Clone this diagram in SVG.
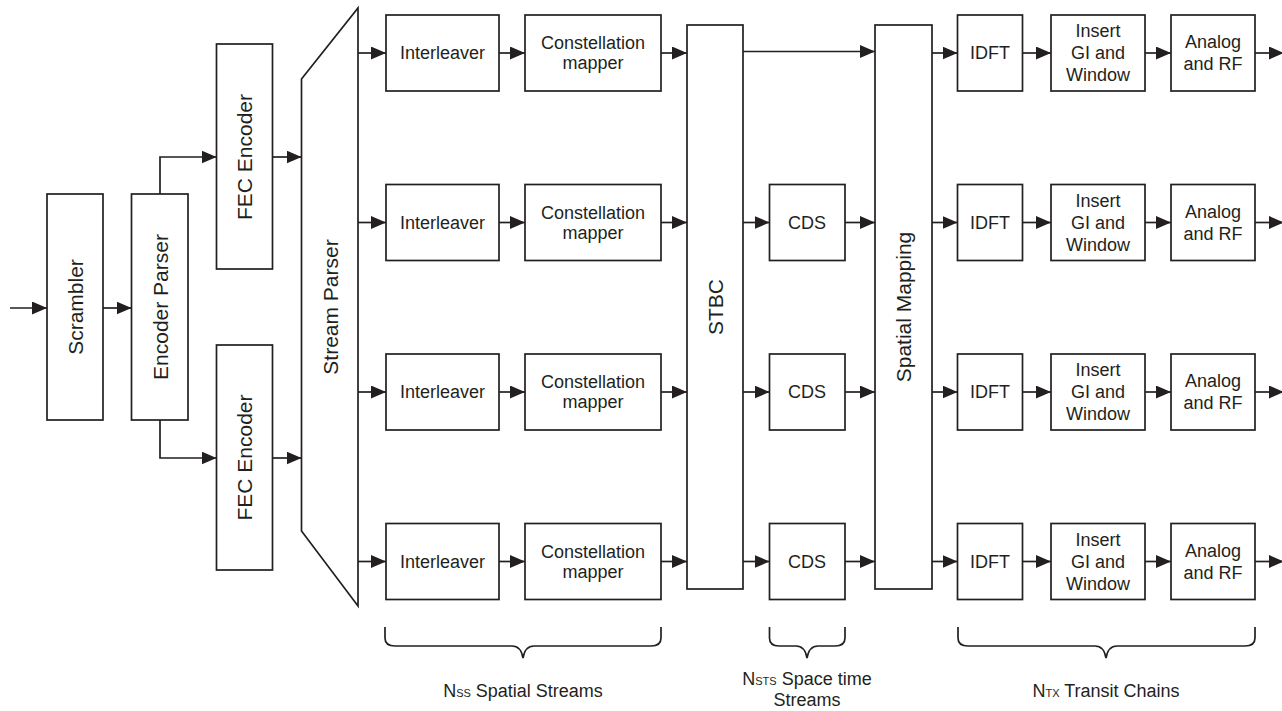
<svg xmlns="http://www.w3.org/2000/svg" width="1282" height="711" viewBox="0 0 1282 711">
  <style>
    .box { fill: #ffffff; stroke: #231f20; stroke-width: 1.7; }
    .wire { fill: none; stroke: #231f20; stroke-width: 1.7; }
    .lbl { font-family: "Liberation Sans", Arial, sans-serif; font-size: 18px; fill: #231f20; text-anchor: middle; }
    .vlbl { font-family: "Liberation Sans", Arial, sans-serif; font-size: 21px; fill: #231f20; text-anchor: middle; }
    .cap { font-family: "Liberation Sans", Arial, sans-serif; font-size: 18px; fill: #231f20; text-anchor: middle; }
    .sub { font-size: 11px; }
  </style>
  <defs>
    <marker id="arrow" markerUnits="userSpaceOnUse" markerWidth="16" markerHeight="14" refX="15" refY="6.5" orient="auto">
      <path d="M0,0 L15,6.5 L0,13 Z" fill="#231f20"/>
    </marker>
  </defs>
  <rect width="1282" height="711" fill="#ffffff"/>

  <!-- front end: scrambler, encoder parser, FEC encoders, stream parser -->
  <g id="scrambler">
    <rect class="box" x="47" y="194" width="56" height="226"/>
    <text class="vlbl" transform="translate(75,307) rotate(-90)" dy="0.36em">Scrambler</text>
  </g>
  <g id="encoder-parser">
    <rect class="box" x="131.5" y="194" width="56.5" height="226"/>
    <text class="vlbl" transform="translate(160,307) rotate(-90)" dy="0.36em">Encoder Parser</text>
  </g>
  <g id="fec-encoder-1">
    <rect class="box" x="216.5" y="44" width="56" height="225"/>
    <text class="vlbl" transform="translate(244,157) rotate(-90)" dy="0.36em">FEC Encoder</text>
  </g>
  <g id="fec-encoder-2">
    <rect class="box" x="216.5" y="345" width="56" height="225"/>
    <text class="vlbl" transform="translate(244,457.5) rotate(-90)" dy="0.36em">FEC Encoder</text>
  </g>
  <g id="stream-parser">
    <path class="box" d="M301.5,79 L358,8 L358,606 L301.5,531 Z"/>
    <text class="vlbl" transform="translate(330,307) rotate(-90)" dy="0.36em">Stream Parser</text>
  </g>

  <!-- per spatial stream: interleaver and constellation mapper -->
  <g id="interleaver-1"><rect class="box" x="386" y="15" width="113" height="76"/><text class="lbl" x="442.5" y="59.3">Interleaver</text></g>
  <g id="interleaver-2"><rect class="box" x="386" y="184.5" width="113" height="76"/><text class="lbl" x="442.5" y="228.8">Interleaver</text></g>
  <g id="interleaver-3"><rect class="box" x="386" y="354" width="113" height="76"/><text class="lbl" x="442.5" y="398.3">Interleaver</text></g>
  <g id="interleaver-4"><rect class="box" x="386" y="523.5" width="113" height="76"/><text class="lbl" x="442.5" y="567.8">Interleaver</text></g>

  <g id="mapper-1"><rect class="box" x="525" y="15" width="136" height="76"/><text class="lbl" x="593" y="49">Constellation</text><text class="lbl" x="593" y="69">mapper</text></g>
  <g id="mapper-2"><rect class="box" x="525" y="184.5" width="136" height="76"/><text class="lbl" x="593" y="218.5">Constellation</text><text class="lbl" x="593" y="238.5">mapper</text></g>
  <g id="mapper-3"><rect class="box" x="525" y="354" width="136" height="76"/><text class="lbl" x="593" y="388">Constellation</text><text class="lbl" x="593" y="408">mapper</text></g>
  <g id="mapper-4"><rect class="box" x="525" y="523.5" width="136" height="76"/><text class="lbl" x="593" y="557.5">Constellation</text><text class="lbl" x="593" y="577.5">mapper</text></g>

  <!-- space-time block coding, cyclic delay, spatial mapping -->
  <g id="stbc">
    <rect class="box" x="687" y="25" width="56" height="564"/>
    <text class="vlbl" transform="translate(715,307) rotate(-90)" dy="0.36em">STBC</text>
  </g>
  <g id="cds-2"><rect class="box" x="769.5" y="184.5" width="75.5" height="76"/><text class="lbl" x="807" y="228.8">CDS</text></g>
  <g id="cds-3"><rect class="box" x="769.5" y="354" width="75.5" height="76"/><text class="lbl" x="807" y="398.3">CDS</text></g>
  <g id="cds-4"><rect class="box" x="769.5" y="523.5" width="75.5" height="76"/><text class="lbl" x="807" y="567.8">CDS</text></g>
  <g id="spatial-mapping">
    <rect class="box" x="875" y="25" width="57" height="564"/>
    <text class="vlbl" transform="translate(903,307) rotate(-90)" dy="0.36em">Spatial Mapping</text>
  </g>

  <!-- per transmit chain: IDFT, guard interval and windowing, analog and RF -->
  <g id="idft-1"><rect class="box" x="957.5" y="15" width="65" height="76"/><text class="lbl" x="990" y="59.3">IDFT</text></g>
  <g id="idft-2"><rect class="box" x="957.5" y="184.5" width="65" height="76"/><text class="lbl" x="990" y="228.8">IDFT</text></g>
  <g id="idft-3"><rect class="box" x="957.5" y="354" width="65" height="76"/><text class="lbl" x="990" y="398.3">IDFT</text></g>
  <g id="idft-4"><rect class="box" x="957.5" y="523.5" width="65" height="76"/><text class="lbl" x="990" y="567.8">IDFT</text></g>

  <g id="gi-window-1"><rect class="box" x="1051" y="15" width="94" height="76"/><text class="lbl" x="1098" y="37.3">Insert</text><text class="lbl" x="1098" y="59.3">GI and</text><text class="lbl" x="1098" y="81">Window</text></g>
  <g id="gi-window-2"><rect class="box" x="1051" y="184.5" width="94" height="76"/><text class="lbl" x="1098" y="206.8">Insert</text><text class="lbl" x="1098" y="228.8">GI and</text><text class="lbl" x="1098" y="250.5">Window</text></g>
  <g id="gi-window-3"><rect class="box" x="1051" y="354" width="94" height="76"/><text class="lbl" x="1098" y="376.3">Insert</text><text class="lbl" x="1098" y="398.3">GI and</text><text class="lbl" x="1098" y="420">Window</text></g>
  <g id="gi-window-4"><rect class="box" x="1051" y="523.5" width="94" height="76"/><text class="lbl" x="1098" y="545.8">Insert</text><text class="lbl" x="1098" y="567.8">GI and</text><text class="lbl" x="1098" y="589.5">Window</text></g>

  <g id="analog-rf-1"><rect class="box" x="1171" y="15" width="84" height="76"/><text class="lbl" x="1213" y="48.3">Analog</text><text class="lbl" x="1213" y="70">and RF</text></g>
  <g id="analog-rf-2"><rect class="box" x="1171" y="184.5" width="84" height="76"/><text class="lbl" x="1213" y="217.8">Analog</text><text class="lbl" x="1213" y="239.5">and RF</text></g>
  <g id="analog-rf-3"><rect class="box" x="1171" y="354" width="84" height="76"/><text class="lbl" x="1213" y="387.3">Analog</text><text class="lbl" x="1213" y="409">and RF</text></g>
  <g id="analog-rf-4"><rect class="box" x="1171" y="523.5" width="84" height="76"/><text class="lbl" x="1213" y="556.8">Analog</text><text class="lbl" x="1213" y="578.5">and RF</text></g>

  <!-- connectors -->
  <g id="connectors" class="wire" marker-end="url(#arrow)">
    <path d="M10,308 H47"/>
    <path d="M103,308 H131.5"/>
    <path d="M160,194 V157 H216.5"/>
    <path d="M160,420 V458 H216.5"/>
    <path d="M272.5,157 H301.5"/>
    <path d="M272.5,458 H301.5"/>

    <path d="M358,53 H386"/>
    <path d="M499,53 H525"/>
    <path d="M661,53 H687"/>
    <path d="M743,51.5 H875"/>
    <path d="M932,53 H957.5"/>
    <path d="M1022.5,53 H1051"/>
    <path d="M1145,53 H1171"/>
    <path d="M1255,53 H1284"/>

    <path d="M358,222.5 H386"/>
    <path d="M499,222.5 H525"/>
    <path d="M661,222.5 H687"/>
    <path d="M743,222.5 H769.5"/>
    <path d="M845,222.5 H875"/>
    <path d="M932,222.5 H957.5"/>
    <path d="M1022.5,222.5 H1051"/>
    <path d="M1145,222.5 H1171"/>
    <path d="M1255,222.5 H1284"/>

    <path d="M358,392 H386"/>
    <path d="M499,392 H525"/>
    <path d="M661,392 H687"/>
    <path d="M743,392 H769.5"/>
    <path d="M845,392 H875"/>
    <path d="M932,392 H957.5"/>
    <path d="M1022.5,392 H1051"/>
    <path d="M1145,392 H1171"/>
    <path d="M1255,392 H1284"/>

    <path d="M358,561.5 H386"/>
    <path d="M499,561.5 H525"/>
    <path d="M661,561.5 H687"/>
    <path d="M743,561.5 H769.5"/>
    <path d="M845,561.5 H875"/>
    <path d="M932,561.5 H957.5"/>
    <path d="M1022.5,561.5 H1051"/>
    <path d="M1145,561.5 H1171"/>
    <path d="M1255,561.5 H1284"/>
  </g>

  <!-- grouping braces and their captions -->
  <g id="brace-nss">
    <path class="wire" stroke-width="1.3" d="M385,627 V638 Q385,646 395,646 H512 Q521,646 523,658 Q525,646 534,646 H651 Q661,646 661,638 V627"/>
    <text class="cap" x="523" y="697">N<tspan class="sub">SS</tspan> Spatial Streams</text>
  </g>
  <g id="brace-nsts">
    <path class="wire" stroke-width="1.3" d="M769.5,627 V638 Q769.5,646 779,646 H796 Q805,646 807,658 Q809,646 818,646 H835 Q845,646 845,638 V627"/>
    <text class="cap" x="807" y="685">N<tspan class="sub">STS</tspan> Space time</text>
    <text class="cap" x="807" y="706">Streams</text>
  </g>
  <g id="brace-ntx">
    <path class="wire" stroke-width="1.3" d="M958,627 V638 Q958,646 968,646 H1095 Q1104,646 1106,658 Q1108,646 1117,646 H1245 Q1255,646 1255,638 V627"/>
    <text class="cap" x="1106" y="697">N<tspan class="sub">TX</tspan> Transit Chains</text>
  </g>
</svg>
